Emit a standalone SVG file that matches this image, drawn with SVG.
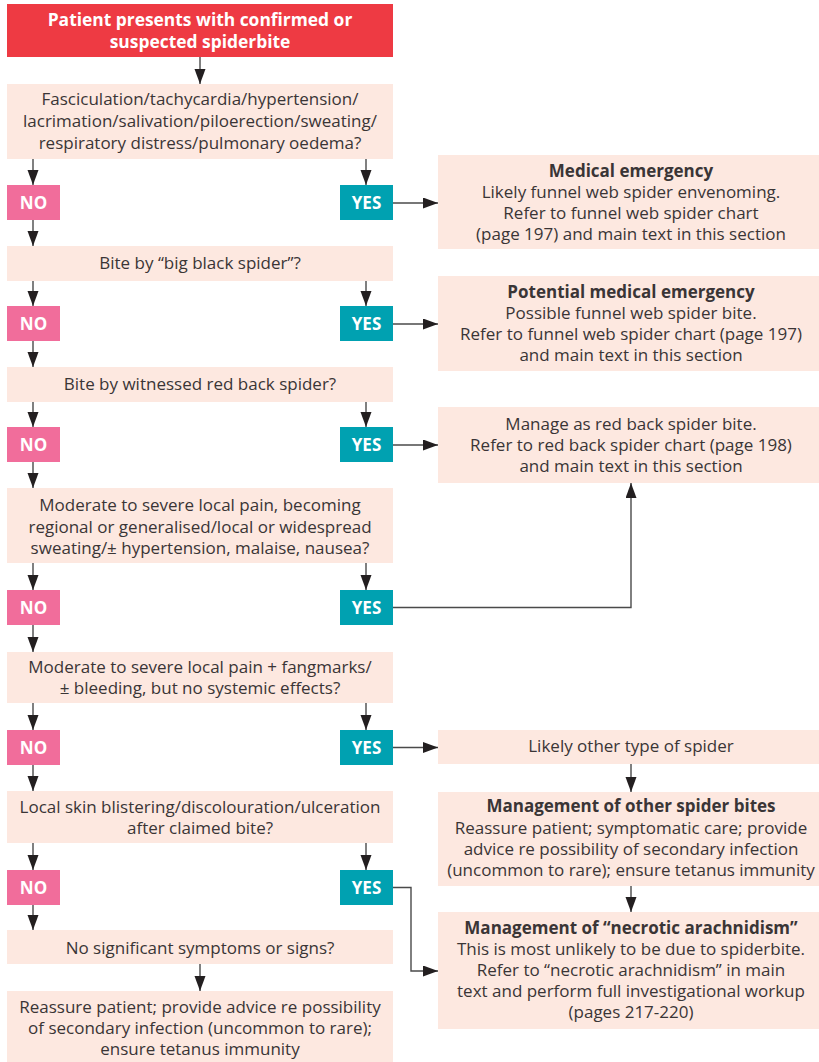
<svg xmlns="http://www.w3.org/2000/svg" width="819" height="1062" viewBox="0 0 819 1062">
  <style>
    .box { fill: #fde8e0; }
    .head { fill: #ee3a43; }
    .no { fill: #f16d9b; }
    .yes { fill: #00a1b1; }
    text { font-family: "Open Sans", "Noto Sans", sans-serif; font-size: 17px; fill: #3a3536; text-anchor: middle; }
    .b { font-weight: bold; }
    .w { fill: #ffffff; font-weight: bold; font-size: 17px; }
    .hd { fill: #ffffff; font-weight: bold; font-size: 17.4px; }
    .ln { fill: none; stroke: #4a4a4a; stroke-width: 1.4; }
  </style>
  <defs>
    <marker id="arr" markerUnits="userSpaceOnUse" markerWidth="16" markerHeight="12" refX="15" refY="5.5" orient="auto">
      <path d="M0,0 L15,5.5 L0,11 z" fill="#231f20"/>
    </marker>
  </defs>

  <!-- connectors -->
  <g id="connectors" class="ln" marker-end="url(#arr)">
    <line x1="200" y1="57" x2="200" y2="84"/>
    <line x1="33" y1="159" x2="33" y2="185"/>
    <line x1="366" y1="159" x2="366" y2="185"/>
    <line x1="393" y1="203" x2="438" y2="203"/>
    <line x1="33" y1="220" x2="33" y2="246"/>
    <line x1="33" y1="281" x2="33" y2="306"/>
    <line x1="366" y1="281" x2="366" y2="306"/>
    <line x1="393" y1="324" x2="438" y2="324"/>
    <line x1="33" y1="341" x2="33" y2="367"/>
    <line x1="33" y1="402" x2="33" y2="427"/>
    <line x1="366" y1="402" x2="366" y2="427"/>
    <line x1="393" y1="445" x2="438" y2="445"/>
    <line x1="33" y1="462" x2="33" y2="488"/>
    <line x1="33" y1="563" x2="33" y2="590"/>
    <line x1="366" y1="563" x2="366" y2="590"/>
    <polyline points="393,607.5 631,607.5 631,483"/>
    <line x1="33" y1="625" x2="33" y2="652"/>
    <line x1="33" y1="703" x2="33" y2="730"/>
    <line x1="366" y1="703" x2="366" y2="730"/>
    <line x1="393" y1="747.5" x2="438" y2="747.5"/>
    <line x1="631" y1="764" x2="631" y2="792"/>
    <line x1="33" y1="765" x2="33" y2="791"/>
    <line x1="33" y1="843" x2="33" y2="870"/>
    <line x1="366" y1="843" x2="366" y2="870"/>
    <line x1="631" y1="886" x2="631" y2="912"/>
    <polyline points="393,887.5 411,887.5 411,971 438,971"/>
    <line x1="33" y1="905" x2="33" y2="930"/>
    <line x1="200" y1="964" x2="200" y2="991"/>
  </g>

  <g id="start">
    <rect class="head" x="7" y="4" width="386" height="53"/>
    <text class="hd" x="200" y="26">Patient presents with confirmed or</text>
    <text class="hd" x="200" y="48">suspected spiderbite</text>
  </g>

  <g id="q1">
    <rect class="box" x="7" y="84" width="386" height="75"/>
    <text x="200" y="105">Fasciculation/tachycardia/hypertension/</text>
    <text x="200" y="127">lacrimation/salivation/piloerection/sweating/</text>
    <text x="200" y="149">respiratory distress/pulmonary oedema?</text>
  </g>
  <g id="no1"><rect class="no" x="7" y="185" width="53" height="35"/><text class="w" x="33.5" y="208.5">NO</text></g>
  <g id="yes1"><rect class="yes" x="340" y="185" width="53" height="35"/><text class="w" x="366.5" y="208.5">YES</text></g>
  <g id="r1">
    <rect class="box" x="438" y="155" width="386" height="94"/>
    <text class="b" x="631" y="176.5">Medical emergency</text>
    <text x="631" y="197.5">Likely funnel web spider envenoming.</text>
    <text x="631" y="218.5">Refer to funnel web spider chart</text>
    <text x="631" y="239.5">(page 197) and main text in this section</text>
  </g>

  <g id="q2">
    <rect class="box" x="7" y="246" width="386" height="35"/>
    <text x="200" y="268.5">Bite by “big black spider”?</text>
  </g>
  <g id="no2"><rect class="no" x="7" y="306" width="53" height="35"/><text class="w" x="33.5" y="329.5">NO</text></g>
  <g id="yes2"><rect class="yes" x="340" y="306" width="53" height="35"/><text class="w" x="366.5" y="329.5">YES</text></g>
  <g id="r2">
    <rect class="box" x="438" y="276" width="386" height="95"/>
    <text class="b" x="631" y="297.5">Potential medical emergency</text>
    <text x="631" y="318.5">Possible funnel web spider bite.</text>
    <text x="631" y="339.5">Refer to funnel web spider chart (page 197)</text>
    <text x="631" y="360.5">and main text in this section</text>
  </g>

  <g id="q3">
    <rect class="box" x="7" y="367" width="386" height="35"/>
    <text x="200" y="389.5">Bite by witnessed red back spider?</text>
  </g>
  <g id="no3"><rect class="no" x="7" y="427" width="53" height="35"/><text class="w" x="33.5" y="450.5">NO</text></g>
  <g id="yes3"><rect class="yes" x="340" y="427" width="53" height="35"/><text class="w" x="366.5" y="450.5">YES</text></g>
  <g id="r3">
    <rect class="box" x="438" y="407" width="386" height="76"/>
    <text x="631" y="429.5">Manage as red back spider bite.</text>
    <text x="631" y="450.5">Refer to red back spider chart (page 198)</text>
    <text x="631" y="471.5">and main text in this section</text>
  </g>

  <g id="q4">
    <rect class="box" x="7" y="488" width="386" height="75"/>
    <text x="200" y="511">Moderate to severe local pain, becoming</text>
    <text x="200" y="532.5">regional or generalised/local or widespread</text>
    <text x="200" y="553.5">sweating/± hypertension, malaise, nausea?</text>
  </g>
  <g id="no4"><rect class="no" x="7" y="590" width="53" height="35"/><text class="w" x="33.5" y="613.5">NO</text></g>
  <g id="yes4"><rect class="yes" x="340" y="590" width="53" height="35"/><text class="w" x="366.5" y="613.5">YES</text></g>

  <g id="q5">
    <rect class="box" x="7" y="652" width="386" height="51"/>
    <text x="200" y="673">Moderate to severe local pain + fangmarks/</text>
    <text x="200" y="694">± bleeding, but no systemic effects?</text>
  </g>
  <g id="no5"><rect class="no" x="7" y="730" width="53" height="35"/><text class="w" x="33.5" y="753.5">NO</text></g>
  <g id="yes5"><rect class="yes" x="340" y="730" width="53" height="35"/><text class="w" x="366.5" y="753.5">YES</text></g>
  <g id="r5">
    <rect class="box" x="438" y="730" width="386" height="34"/>
    <text x="631" y="752">Likely other type of spider</text>
  </g>
  <g id="r6">
    <rect class="box" x="438" y="792" width="386" height="94"/>
    <text class="b" x="631" y="812">Management of other spider bites</text>
    <text x="631" y="833.5">Reassure patient; symptomatic care; provide</text>
    <text x="631" y="854.5">advice re possibility of secondary infection</text>
    <text x="631" y="875.5">(uncommon to rare); ensure tetanus immunity</text>
  </g>

  <g id="q6">
    <rect class="box" x="7" y="791" width="386" height="52"/>
    <text x="200" y="812.5">Local skin blistering/discolouration/ulceration</text>
    <text x="200" y="833.5">after claimed bite?</text>
  </g>
  <g id="no6"><rect class="no" x="7" y="870" width="53" height="35"/><text class="w" x="33.5" y="893.5">NO</text></g>
  <g id="yes6"><rect class="yes" x="340" y="870" width="53" height="35"/><text class="w" x="366.5" y="893.5">YES</text></g>
  <g id="r7">
    <rect class="box" x="438" y="912" width="386" height="117"/>
    <text class="b" x="631" y="933.5">Management of “necrotic arachnidism”</text>
    <text x="631" y="954.5">This is most unlikely to be due to spiderbite.</text>
    <text x="631" y="975.5">Refer to “necrotic arachnidism” in main</text>
    <text x="631" y="996.5">text and perform full investigational workup</text>
    <text x="631" y="1017.5">(pages 217-220)</text>
  </g>

  <g id="q7">
    <rect class="box" x="7" y="930" width="386" height="34"/>
    <text x="200" y="954">No significant symptoms or signs?</text>
  </g>
  <g id="end">
    <rect class="box" x="7" y="991" width="386" height="75"/>
    <text x="200" y="1012.5">Reassure patient; provide advice re possibility</text>
    <text x="200" y="1033.5">of secondary infection (uncommon to rare);</text>
    <text x="200" y="1054.5">ensure tetanus immunity</text>
  </g>
</svg>
